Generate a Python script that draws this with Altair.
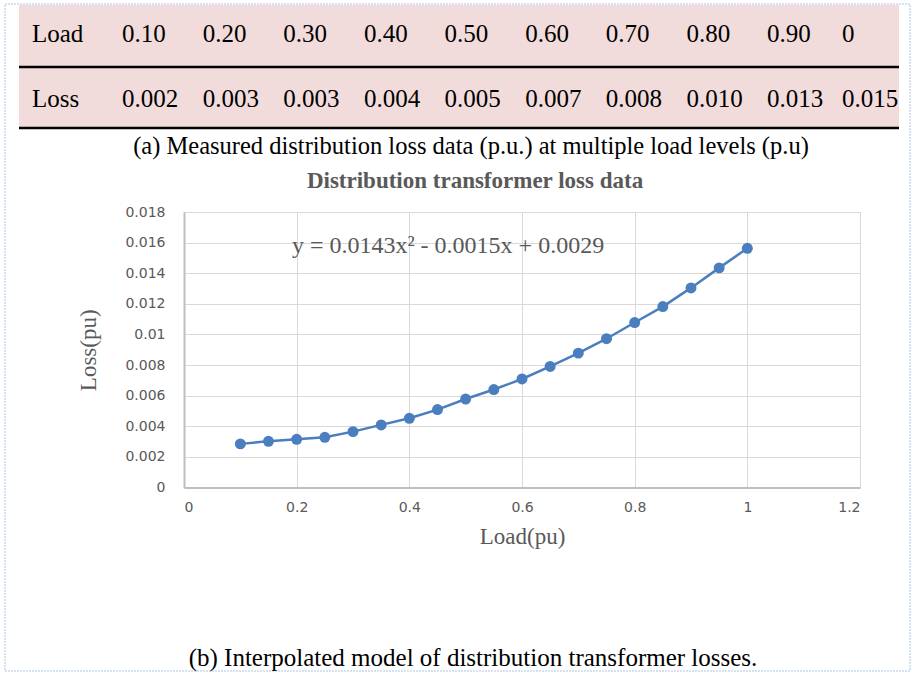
import altair as alt
import pandas as pd

# ---------------- data ----------------
loads = [0.10, 0.15, 0.20, 0.25, 0.30, 0.35, 0.40, 0.45, 0.50, 0.55,
         0.60, 0.65, 0.70, 0.75, 0.80, 0.85, 0.90, 0.95, 1.00]
losses = [0.00285, 0.00302, 0.00315, 0.00328, 0.00365, 0.00409, 0.00452, 0.00509, 0.00578, 0.00640,
          0.00709, 0.00791, 0.00878, 0.00972, 0.01078, 0.01182, 0.01304, 0.01435, 0.01563]

table_load = ["0.10", "0.20", "0.30", "0.40", "0.50", "0.60", "0.70", "0.80", "0.90", "0"]
table_loss = ["0.002", "0.003", "0.003", "0.004", "0.005", "0.007", "0.008", "0.010", "0.013", "0.015"]
row_names = ["Load", "Loss"]

x_ticks = [0, 0.2, 0.4, 0.6, 0.8, 1, 1.2]
y_ticks = [0, 0.002, 0.004, 0.006, 0.008, 0.01, 0.012, 0.014, 0.016, 0.018]

chart_title = "Distribution transformer loss data"
equation = "y = 0.0143x² - 0.0015x + 0.0029"
caption_a = "(a) Measured distribution loss data (p.u.) at multiple load levels (p.u)"
caption_b = "(b) Interpolated model of distribution transformer losses."
x_title = "Load(pu)"
y_title = "Loss(pu)"

# ---------------- layout ----------------
W, H = 676, 275.5
PAD_L, PAD_T = 184, 212
BLUE = "#4a7ebf"
GRAY = "#595959"
SERIF = "Liberation Serif"

df = pd.DataFrame({"load": loads, "loss": losses})

rows = []
for i, v in enumerate(table_load):
    rows.append({"col": i + 1, "row": row_names[0], "label": v})
for i, v in enumerate(table_loss):
    rows.append({"col": i + 1, "row": row_names[1], "label": v})
rows.append({"col": 0, "row": row_names[0], "label": row_names[0]})
rows.append({"col": 0, "row": row_names[1], "label": row_names[1]})
tdf = pd.DataFrame(rows)

one = alt.Data(values=[{}])

xs = alt.Scale(domain=[0, 1.2], nice=False, zero=False)
ys = alt.Scale(domain=[0, 0.018], nice=False, zero=False)

frame = alt.Chart(one).mark_rect(fillOpacity=0, stroke="#a9c6e8", strokeWidth=1, strokeDash=[2, 1]).encode(
    x=alt.value(5 - PAD_L), x2=alt.value(910 - PAD_L),
    y=alt.value(4 - PAD_T), y2=alt.value(671 - PAD_T))

pink = alt.Chart(one).mark_rect(color="#f2dcdb").encode(
    x=alt.value(19 - PAD_L), x2=alt.value(899 - PAD_L),
    y=alt.value(5 - PAD_T), y2=alt.value(128 - PAD_T))

rule1 = alt.Chart(one).mark_rule(color="black", strokeWidth=2.5).encode(
    x=alt.value(19 - PAD_L), x2=alt.value(899 - PAD_L), y=alt.value(67 - PAD_T))
rule2 = alt.Chart(one).mark_rule(color="black", strokeWidth=2.5).encode(
    x=alt.value(19 - PAD_L), x2=alt.value(899 - PAD_L), y=alt.value(128 - PAD_T))

table = alt.Chart(tdf).mark_text(align="left", baseline="alphabetic", font=SERIF,
                                 fontSize=25, color="black").encode(
    x=alt.X("col:Q", scale=alt.Scale(domain=[0, 1, 9, 10], range=[32 - PAD_L, 122 - PAD_L, 767 - PAD_L, 842 - PAD_L],
                                     nice=False, zero=False), axis=None),
    y=alt.Y("row:N", scale=alt.Scale(type="point", domain=row_names, range=[42 - PAD_T, 107 - PAD_T], padding=0),
            axis=None),
    text="label:N")

cap_a = alt.Chart(one).mark_text(text=caption_a, font=SERIF, fontSize=24.5, color="black",
                                 align="center", baseline="alphabetic").encode(
    x=alt.value(471 - PAD_L), y=alt.value(154 - PAD_T))
cap_b = alt.Chart(one).mark_text(text=caption_b, font=SERIF, fontSize=25, color="black",
                                 align="center", baseline="alphabetic").encode(
    x=alt.value(473 - PAD_L), y=alt.value(666 - PAD_T))
ttl = alt.Chart(one).mark_text(text=chart_title, font=SERIF, fontSize=23, fontWeight="bold", color=GRAY,
                               align="center", baseline="alphabetic").encode(
    x=alt.value(475 - PAD_L), y=alt.value(188 - PAD_T))
eq = alt.Chart(one).mark_text(text=equation, font=SERIF, fontSize=24, color=GRAY,
                              align="center", baseline="alphabetic").encode(
    x=alt.value(448 - PAD_L), y=alt.value(253 - PAD_T))

line = alt.Chart(df).mark_line(color=BLUE, strokeWidth=2.5).encode(
    x=alt.X("load:Q", scale=xs, axis=None),
    y=alt.Y("loss:Q", scale=ys, axis=None))

points = alt.Chart(df).mark_circle(color=BLUE, size=120, opacity=1).encode(
    x=alt.X("load:Q", scale=xs, axis=alt.Axis(
        values=x_ticks, format="~f", title=x_title, grid=True, ticks=False, tickSize=0,
        labelPadding=13, labelFont="DejaVu Sans", labelFontSize=14, labelColor=GRAY,
        titleFont=SERIF, titleFontSize=23, titleFontWeight="normal", titleColor=GRAY,
        titleX=W / 2, titleY=49, titleBaseline="middle", titleAlign="center",
        domainColor="#bfbfbf", domainWidth=2, gridColor="#d9d9d9", gridWidth=1)),
    y=alt.Y("loss:Q", scale=ys, axis=alt.Axis(
        values=y_ticks, format="~f", title=y_title, grid=True, ticks=False, tickSize=0,
        labelPadding=19, labelFont="DejaVu Sans", labelFontSize=14, labelColor=GRAY,
        titleFont=SERIF, titleFontSize=23, titleFontWeight="normal", titleColor=GRAY,
        titleAngle=270, titleX=-96, titleY=H / 2, titleBaseline="middle", titleAlign="center",
        domainColor="#bfbfbf", domainWidth=2, gridColor="#d9d9d9", gridWidth=1)))

chart = alt.layer(frame, pink, rule1, rule2, table, cap_a, cap_b, ttl, points, line, eq).resolve_scale(
    x="independent", y="independent"
).properties(
    width=W, height=H,
    autosize=alt.AutoSizeParams(type="none"),
    padding={"left": PAD_L, "top": PAD_T, "right": 912 - PAD_L - W, "bottom": 673 - PAD_T - H},
    background="white",
).configure_view(stroke=None)

chart.save("out.html", embed_options={"renderer": "svg", "actions": False})
